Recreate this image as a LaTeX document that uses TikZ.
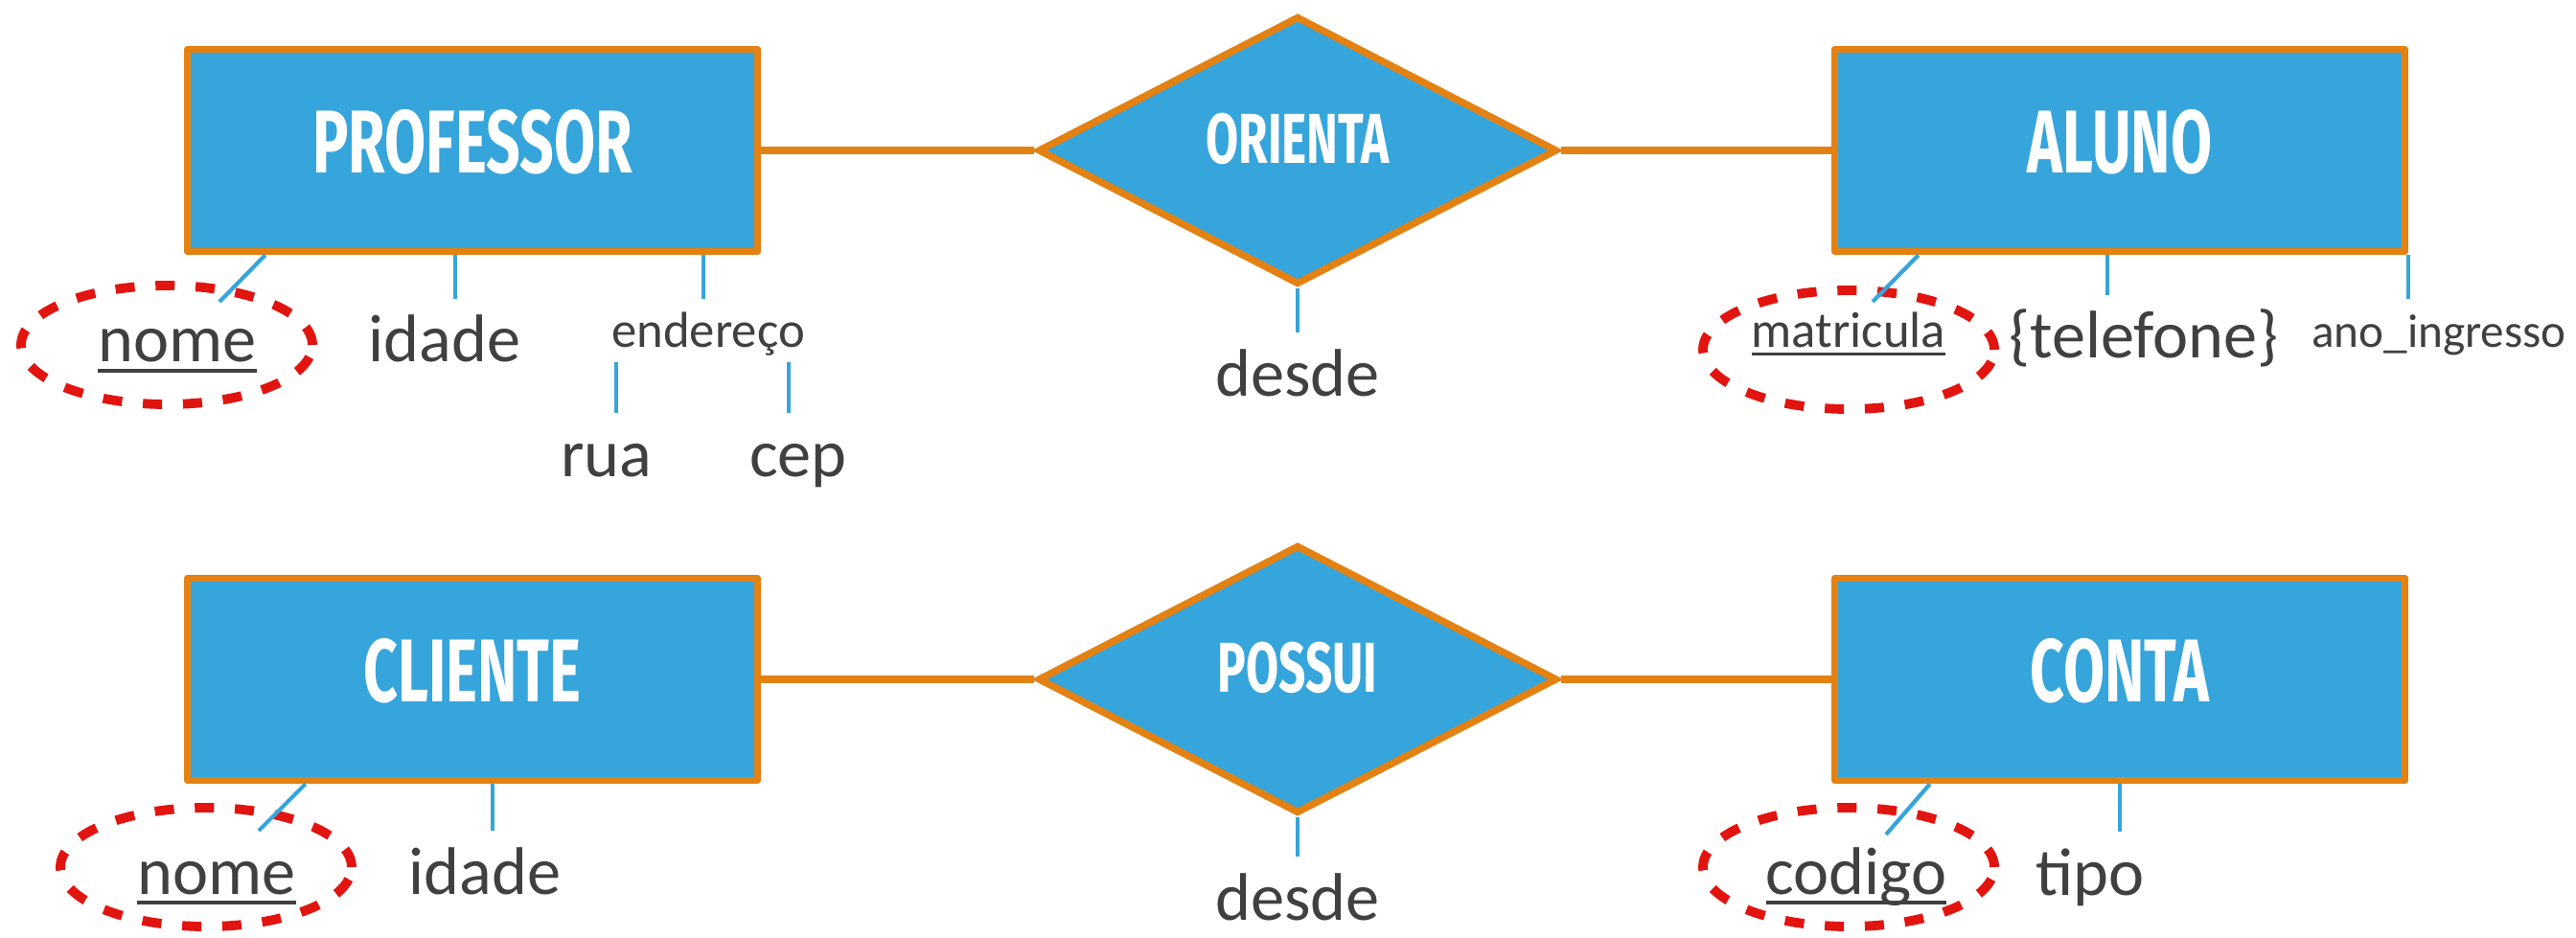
\documentclass[tikz,border=0pt]{standalone}
\usepackage{fontspec}
\setmainfont{Carlito}
\newfontfamily\titulofonte[FakeStretch=0.67]{Fira Sans}
\usepackage{tikz}
\usetikzlibrary{shapes.geometric}
\definecolor{azul}{RGB}{54,165,219}
\definecolor{laranja}{RGB}{227,129,18}
\definecolor{vermelho}{RGB}{226,20,15}
\definecolor{cinza}{RGB}{64,64,64}
\def\chave#1{\setbox0=\hbox{#1}\rlap{\rule[-0.155em]{\wd0}{0.055em}}\box0}
\tikzset{
	entidade/.style={rectangle, draw=laranja, fill=azul, line width=2.1pt, line join=round, minimum width=5.95cm, minimum height=2.11cm, inner sep=0pt, text=white, font=\titulofonte\bfseries\fontsize{26.5}{30}\selectfont, text depth=0.2cm},
	relacao/.style={diamond, draw=laranja, fill=azul, line width=2.1pt, aspect=1.95, minimum width=5.42cm, minimum height=2.8cm, inner sep=0pt, text=white, font=\titulofonte\bfseries\fontsize{21}{24}\selectfont, text depth=0.25cm},
	ligacao/.style={draw=laranja, line width=2.1pt},
	atributo/.style={anchor=base, text=cinza, font=\fontsize{20}{24}\selectfont, text height=0.5cm, text depth=0.12cm, inner xsep=0pt, inner ysep=0.15cm},
	atribpeq/.style={atributo, font=\fontsize{15}{18}\selectfont, text height=0.4cm, text depth=0.04cm, inner ysep=0.1cm},
	chaveelipse/.style={ellipse, draw=vermelho, line width=2.8pt, dash pattern=on 5.7pt off 6.2pt, text=cinza, font=\fontsize{20}{24}\selectfont, minimum width=3.04cm, minimum height=1.24cm, inner sep=0pt, text height=0.5cm, text depth=0.14cm},
	traco/.style={draw=azul, line width=1.2pt}
}

\begin{document}
\begin{tikzpicture}
		%%%%% START %%%%%
		\useasboundingbox (0, 0) rectangle (26.88, 9.78);
		
		\node[entidade] (professor) at (4.93, 8.21) {PROFESSOR};
		\node[relacao] (orienta) at (13.54, 8.21) {ORIENTA};
		\node[entidade] (aluno) at (22.12, 8.21) {ALUNO};
		\draw[ligacao] (professor) -- (orienta);
		\draw[ligacao] (orienta) -- (aluno);
		
		\node[chaveelipse] (nome1) at (1.74, 6.18) {\hspace*{0.22cm}\chave{nome}};
		\node[atributo] (idade1) at (4.64, 6.00) {idade};
		\node[atribpeq] (endereco) at (7.39, 6.15) {endereço};
		\node[atributo] (rua) at (6.33, 4.81) {rua};
		\node[atributo] (cep) at (8.33, 4.81) {cep};
		\node[atributo] (desde1) at (13.54, 5.65) {desde};
		\node[chaveelipse, font=\fontsize{15}{18}\selectfont, text height=0.4cm, text depth=0.44cm] (matricula) at (19.29, 6.13) {\chave{matricula}};
		\node[atributo] (telefone) at (22.37, 6.04) {\{telefone\}};
		\node[atribpeq, font=\fontsize{14}{17}\selectfont] (anoingresso) at (25.45, 6.15) {ano\_ingresso};
		
		\draw[traco] ([xshift=0.85cm]professor.south west) -- ([shift={(0.55,0.45)}]nome1.center);
		\draw[traco] ([xshift=1.1mm]idade1.north) -- ([xshift=1.1mm]idade1.north |- professor.south);
		\draw[traco] ([xshift=-0.5mm]endereco.north) -- ([xshift=-0.5mm]endereco.north |- professor.south);
		\draw[traco] ([xshift=1mm]rua.north) -- ([xshift=1mm]rua.north |- endereco.south);
		\draw[traco] ([xshift=-1mm]cep.north) -- ([xshift=-1mm]cep.north |- endereco.south);
		\draw[traco] (orienta.south) -- (desde1);
		\draw[traco] ([xshift=0.91cm]aluno.south west) -- ([shift={(0.25,0.5)}]matricula.center);
		\draw[traco] ([xshift=-1.3mm]aluno.south) -- ([xshift=-1.3mm]aluno.south |- telefone.north);
		\draw[traco] (aluno.south east) -- (aluno.south east |- anoingresso.north);
		
		\node[entidade] (cliente) at (4.93, 2.69) {CLIENTE};
		\node[relacao] (possui) at (13.54, 2.69) {POSSUI};
		\node[entidade] (conta) at (22.12, 2.69) {CONTA};
		\draw[ligacao] (cliente) -- (possui);
		\draw[ligacao] (possui) -- (conta);
		
		\node[chaveelipse, text height=0.6cm, text depth=0.04cm] (nome2) at (2.15, 0.73) {\hspace*{0.22cm}\chave{nome}};
		\node[atributo] (idade2) at (5.06, 0.45) {idade};
		\node[atributo] (desde2) at (13.54, 0.18) {desde};
		\node[chaveelipse, text height=0.6cm, text depth=0.04cm] (codigo) at (19.29, 0.73) {\hspace*{0.16cm}\chave{codigo}};
		\node[atributo] (tipo) at (21.81, 0.44) {tipo};
		
		\draw[traco] ([xshift=1.27cm]cliente.south west) -- ([shift={(0.55,0.38)}]nome2.center);
		\draw[traco] ([xshift=0.8mm]idade2.north) -- ([xshift=0.8mm]idade2.north |- cliente.south);
		\draw[traco] (possui.south) -- (desde2);
		\draw[traco] ([xshift=1.03cm]conta.south west) -- ([shift={(0.39,0.34)}]codigo.center);
		\draw[traco] (conta.south) -- (conta.south |- tipo.north);
		
		%%%%% END %%%%%
\end{tikzpicture}
\end{document}
